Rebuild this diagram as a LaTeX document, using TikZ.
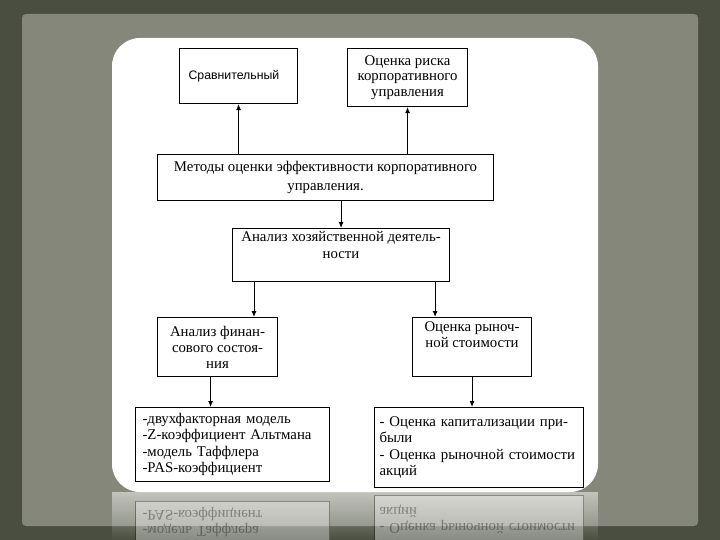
\documentclass[tikz,border=0pt]{standalone}
\usepackage{fontspec}
\setmainfont{Liberation Serif}
\newfontfamily\arialfont{Liberation Sans}
\usepackage{tikz}
\definecolor{framedark}{RGB}{74, 78, 64}
\definecolor{framelight}{RGB}{132, 135, 122}
\usetikzlibrary{arrows.meta, positioning, calc, fadings}

\begin{document}
\begin{tikzpicture}[
    x=1pt, y=-1pt,
    box/.style={rectangle, draw=black, fill=white, line width=1.1pt, anchor=north west,
                inner sep=0pt, align=center, font=\fontsize{14.8}{16}\selectfont},
    listbox/.style={box, align=left, font=\fontsize{14.8}{16.5}\selectfont},
    arrow/.style={-{Latex[length=6pt, width=5pt]}, line width=0.9pt}
]
    \useasboundingbox (0,0) rectangle (720,540);
    \fill[framedark] (0,0) rectangle (720,540);
    \fill[framelight, rounded corners=4pt] (22,14) rectangle (698,526);
    \fill[white, rounded corners=28pt] (112,38) rectangle (598,492);

    \node[box, minimum width=118pt, minimum height=55pt, align=left, text width=100pt,
          font=\arialfont\fontsize{12.3}{14}\selectfont] (cmp) at (179,48) {Сравнительный\\[5pt]};
    \node[box, minimum width=120pt, minimum height=58pt, font=\fontsize{14.8}{15.5}\selectfont]
          (risk) at (347,48) {Оценка риска\\корпоративного\\управления};
    \node[box, minimum width=336pt, minimum height=46pt, font=\fontsize{14.8}{19}\selectfont]
          (methods) at (157,154) {Методы оценки эффективности корпоративного\\управления.};
    \node[box, minimum width=217pt, minimum height=53pt, font=\fontsize{14.8}{17}\selectfont]
          (analysis) at (232,228) {Анализ хозяйственной деятель-\\ности\\[4pt]};
    \node[box, minimum width=120pt, minimum height=59pt] (fin) at (157,317)
          {Анализ финан-\\сового состоя-\\ния};
    \node[box, minimum width=119pt, minimum height=59pt] (market) at (412,317)
          {Оценка рыноч-\\ной стоимости\\[8pt]};
    \node[listbox, minimum width=194pt, minimum height=74pt, text width=180pt] (models) at (135,407)
          {-двухфакторная модель\\-Z-коэффициент Альтмана\\-модель Таффлера\\-PAS-коэффициент};
    \node[listbox, minimum width=209pt, minimum height=80pt, text width=199pt] (valuation) at (374,407)
          {- Оценка капитализации при-\\были\\- Оценка рыночной стоимости\\акций};

    \draw[arrow] (methods.north -| cmp.south) -- (cmp.south);
    \draw[arrow] (methods.north -| risk.south) -- (risk.south);
    \draw[arrow] (methods.south -| analysis.north) -- (analysis.north);
    \draw[arrow] ([xshift=22pt]analysis.south west) -- ([xshift=22pt]analysis.south west |- fin.north);
    \draw[arrow] ([xshift=-15pt]analysis.south east) -- ([xshift=-15pt]analysis.south east |- market.north);
    \draw[arrow] ([xshift=-7pt]fin.south) -- ([xshift=-7pt]fin.south |- models.north);
    \draw[arrow] (market.south) -- (market.south |- valuation.north);

    \begin{scope}
        \clip (112,492) rectangle (598,540);
        \fill[white, opacity=0.5, path fading=south] (112,492) rectangle (598,540);
        \begin{scope}[shift={(0,983)}, yscale=-1, opacity=0.35]
            \node[listbox, transform shape, minimum width=194pt, minimum height=74pt, text width=180pt]
                  (modelsmirror) at (135,407)
                  {-двухфакторная модель\\-Z-коэффициент Альтмана\\-модель Таффлера\\-PAS-коэффициент};
            \node[listbox, transform shape, minimum width=209pt, minimum height=80pt, text width=199pt]
                  (valuationmirror) at (374,407)
                  {- Оценка капитализации при-\\были\\- Оценка рыночной стоимости\\акций};
        \end{scope}
    \end{scope}
\end{tikzpicture}
\end{document}
